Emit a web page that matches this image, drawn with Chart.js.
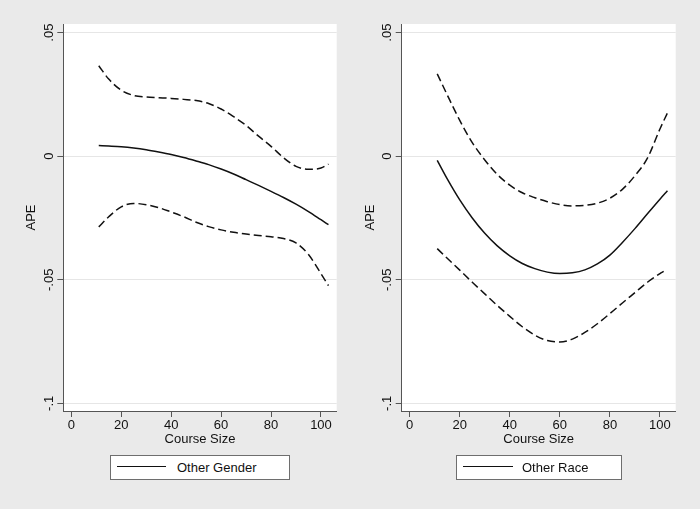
<!DOCTYPE html>
<html>
<head>
<meta charset="utf-8">
<script src="https://cdn.jsdelivr.net/npm/chart.js@4.4.0/dist/chart.umd.min.js"></script>
<style>
html,body{margin:0;padding:0;background:#eaeaea;}
#wrap{position:relative;width:700px;height:509px;overflow:hidden;background:#eaeaea;font-family:"Liberation Sans",Arial,sans-serif;}
canvas{position:absolute;top:0;}
.legend{position:absolute;top:455px;height:25px;box-sizing:border-box;border:1px solid #6e6e6e;background:#fff;font-size:13px;color:#111;}
.legend .sw{position:absolute;top:10px;height:0;border-top:1.5px solid #111;}
.legend .tx{position:absolute;top:0;line-height:23px;white-space:nowrap;}
</style>
</head>
<body>
<div id="wrap">
  <canvas id="c1" width="350" height="509" style="left:0"></canvas>
  <canvas id="c2" width="350" height="509" style="left:350px"></canvas>
  <div id="lg1" class="legend" style="left:110px;width:180px;"><div class="sw" style="left:6px;width:49px;"></div><div class="tx" style="left:66px;"></div></div>
  <div id="lg2" class="legend" style="left:456px;width:166px;"><div class="sw" style="left:6px;width:50px;"></div><div class="tx" style="left:65px;"></div></div>
</div>
<script>
// ---- data ----
const yTicks = [-0.1, -0.05, 0, 0.05];
const yTickLabels = ['-.1', '-.05', '0', '.05'];
const xTicks = [0, 20, 40, 60, 80, 100];
const xTickLabels = ['0', '20', '40', '60', '80', '100'];
const yAxisTitle = 'APE';
const xAxisTitle = 'Course Size';

const courseSize = [11, 15, 20, 25, 30, 35, 40, 45, 50, 55, 60, 65, 70, 75, 80, 85, 90, 95, 100, 103];

const genderLabel = 'Other Gender';
const genderEstimate = [0.0043, 0.0041, 0.0038, 0.0033, 0.0026, 0.0017, 0.0007, -0.0005, -0.0019, -0.0034, -0.0052, -0.0072, -0.0095, -0.0118, -0.0142, -0.0167, -0.0194, -0.0224, -0.0257, -0.0277];
const genderUpper = [0.0366, 0.0312, 0.0267, 0.0246, 0.0240, 0.0237, 0.0234, 0.0230, 0.0225, 0.0213, 0.0191, 0.0160, 0.0125, 0.0081, 0.0040, -0.0006, -0.0041, -0.0053, -0.0048, -0.0032];
const genderLower = [-0.0286, -0.0245, -0.0205, -0.0191, -0.0196, -0.0208, -0.0226, -0.0245, -0.0267, -0.0285, -0.0298, -0.0308, -0.0315, -0.0321, -0.0326, -0.0333, -0.0351, -0.0398, -0.0475, -0.0524];

const raceLabel = 'Other Race';
const raceEstimate = [-0.0017, -0.0092, -0.0177, -0.0250, -0.0312, -0.0363, -0.0403, -0.0434, -0.0455, -0.0469, -0.0475, -0.0472, -0.0460, -0.0436, -0.0400, -0.0349, -0.0293, -0.0233, -0.0174, -0.0140];
const raceUpper = [0.0333, 0.0248, 0.0145, 0.0055, -0.0015, -0.0074, -0.0117, -0.0148, -0.0168, -0.0184, -0.0196, -0.0201, -0.0199, -0.0190, -0.0170, -0.0134, -0.0079, -0.0008, 0.0110, 0.0175];
const raceLowerCourseSize = [11, 15, 20, 25, 30, 35, 40, 45, 50, 55, 60, 65, 70, 75, 80, 85, 90, 95, 100, 101.5];
const raceLower = [-0.0374, -0.0413, -0.0461, -0.0510, -0.0557, -0.0604, -0.0648, -0.0690, -0.0724, -0.0746, -0.0752, -0.0740, -0.0713, -0.0678, -0.0637, -0.0594, -0.0552, -0.0510, -0.0475, -0.0466];

// ---- chart ----
Chart.defaults.font.family = '"Liberation Sans", Arial, sans-serif';
Chart.defaults.font.size = 13;
Chart.defaults.color = '#111';

const pts = (xs, ys) => xs.map((x, i) => ({x: x, y: ys[i]}));

const whiteArea = {
  id: 'whiteArea',
  beforeDraw(chart) {
    const a = chart.chartArea, ctx = chart.ctx;
    ctx.save();
    ctx.fillStyle = '#ffffff';
    ctx.fillRect(a.left, a.top, a.right - a.left, a.bottom - a.top);
    ctx.restore();
  }
};

function lineDs(label, data, dashed) {
  return {
    label: label,
    data: data,
    borderColor: '#111',
    borderWidth: 1.5,
    borderDash: dashed ? [8, 4] : [],
    pointRadius: 0,
    fill: false,
    cubicInterpolationMode: 'monotone'
  };
}

function makePanel(id, datasets, padL, padR) {
  return new Chart(document.getElementById(id), {
    type: 'line',
    data: {datasets: datasets},
    plugins: [whiteArea],
    options: {
      responsive: false,
      animation: false,
      devicePixelRatio: 1,
      layout: {padding: {left: padL, right: padR, top: 24, bottom: 62}},
      plugins: {legend: {display: false}, tooltip: {enabled: false}},
      scales: {
        x: {
          type: 'linear', min: -3.2, max: 106.3,
          afterBuildTicks: s => { s.ticks = xTicks.map(v => ({value: v})); },
          afterFit: s => { s.height = 36; },
          grid: {drawOnChartArea: false, tickLength: 6, color: '#555', tickColor: '#555'},
          border: {display: true, color: '#555', width: 1},
          ticks: {minRotation: 0, maxRotation: 0, padding: 1, color: '#111', callback: (v, i) => xTickLabels[i]},
          title: {display: true, text: xAxisTitle, color: '#111', padding: {top: 0, bottom: 0}}
        },
        y: {
          type: 'linear', min: -0.1031, max: 0.0535,
          afterBuildTicks: s => { s.ticks = yTicks.map(v => ({value: v})); },
          afterFit: s => { s.width = 51.7; },
          grid: {color: '#e6e6e6', lineWidth: 1, tickLength: 6, tickColor: '#555'},
          border: {display: true, color: '#555', width: 1},
          ticks: {minRotation: 90, maxRotation: 90, crossAlign: 'center', padding: -3, color: '#111', callback: (v, i) => yTickLabels[i]},
          title: {display: true, text: yAxisTitle, color: '#111', padding: {top: 12.5, bottom: 0}}
        }
      }
    }
  });
}

const c1 = makePanel('c1', [
  lineDs(genderLabel, pts(courseSize, genderEstimate), false),
  lineDs(genderLabel + ' upper', pts(courseSize, genderUpper), true),
  lineDs(genderLabel + ' lower', pts(courseSize, genderLower), true)
], 11.6, 13.3);

const c2 = makePanel('c2', [
  lineDs(raceLabel, pts(courseSize, raceEstimate), false),
  lineDs(raceLabel + ' upper', pts(courseSize, raceUpper), true),
  lineDs(raceLabel + ' lower', pts(raceLowerCourseSize, raceLower), true)
], 0, 24.3);

document.querySelector('#lg1 .tx').textContent = c1.data.datasets[0].label;
document.querySelector('#lg2 .tx').textContent = c2.data.datasets[0].label;
</script>
</body>
</html>
